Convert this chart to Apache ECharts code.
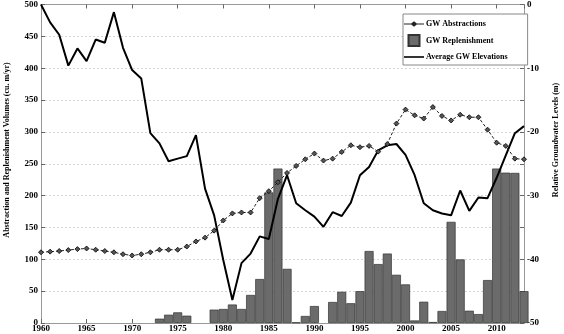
<!DOCTYPE html>
<html><head><meta charset="utf-8">
<script src="https://cdn.jsdelivr.net/npm/echarts@6/dist/echarts.min.js"></script>
<style>html,body{margin:0;padding:0;background:#fff}#c{width:564px;height:334px}</style>
</head><body><div id="c"></div>
<script>
var years = [1960,1961,1962,1963,1964,1965,1966,1967,1968,1969,1970,1971,1972,1973,1974,1975,1976,1977,1978,1979,1980,1981,1982,1983,1984,1985,1986,1987,1988,1989,1990,1991,1992,1993,1994,1995,1996,1997,1998,1999,2000,2001,2002,2003,2004,2005,2006,2007,2008,2009,2010,2011,2012,2013];
var abstractions = [111,112,113,114.5,116,117,115,113,111,108,106,108,111,115,115,115,120,128,134,145,161,172,173.5,173.5,196,207,221,235.6,246.6,257,266,255,258,268.5,279,276,278,269,281,313,335,326,321,339,325,318,327,323,323,303.5,283,278,258,257];
var replenishment = [null,null,null,null,null,null,null,null,null,null,null,null,null,6.8,13,16.7,11.5,null,null,21,22,29,22,44,69,205,242.5,85,1,11,26.6,null,33,49,31,50,113,92.5,109,75.7,60.6,4,33.4,1.5,18.8,158.8,99.8,19.3,14,67.4,242.5,236,235.6,50];
var elevations = [0,-2.8,-4.75,-9.6,-6.9,-8.9,-5.5,-6.0,-1.2,-6.8,-10.3,-11.6,-20.2,-21.8,-24.6,-24.2,-23.8,-20.5,-28.9,-33.1,-40.1,-46.4,-40.6,-39.1,-36.4,-36.8,-30.5,-26.8,-31.2,-32.3,-33.3,-34.9,-32.6,-33.2,-31.1,-26.8,-25.5,-22.9,-22.1,-21.9,-23.6,-26.8,-31.2,-32.3,-32.8,-33.1,-29.2,-32.4,-30.3,-30.4,-27.2,-23.7,-20.2,-19.1];
var seriesNames = ['GW Abstractions','GW Replenishment','Average GW Elevations'];
var leftTitle = 'Abstraction and Replenishment Volumes (cu. m/yr)';
var rightTitle = 'Relative Groundwater Levels (m)';

function pairs(vals){ var out=[]; for(var i=0;i<years.length;i++){ if(vals[i]!==null) out.push([years[i], vals[i]]); } return out; }

var FONT = 'Liberation Serif';
var lbl = {fontFamily: FONT, fontWeight: 'bold', fontSize: 9, color: '#000'};
var chart = echarts.init(document.getElementById('c'), null, {renderer: 'canvas'});
chart.setOption({
  animation: false,
  backgroundColor: '#fff',
  grid: {left: 41, right: 40, top: 4, bottom: 11, containLabel: false},
  xAxis: [{
    type: 'value', min: 1960, max: 2013, interval: 5, position: 'bottom',
    axisLine: {lineStyle: {color: '#999', width: 1}},
    axisTick: {inside: true, length: 4, lineStyle: {color: '#666'}},
    axisLabel: Object.assign({margin: 1, formatter: function(v){ return v % 5 === 0 ? String(v) : ''; }}, lbl),
    splitLine: {show: false}
  }, {
    type: 'value', min: 1960, max: 2013, interval: 5, position: 'top',
    axisLine: {lineStyle: {color: '#999', width: 1}},
    axisTick: {inside: true, length: 4, lineStyle: {color: '#666'}},
    axisLabel: {show: false}, splitLine: {show: false}
  }],
  yAxis: [{
    type: 'value', min: 0, max: 500, interval: 50, position: 'left',
    axisLine: {show: true, lineStyle: {color: '#999', width: 1}},
    axisTick: {show: true, inside: true, length: 4, lineStyle: {color: '#666'}},
    axisLabel: Object.assign({margin: 3}, lbl),
    splitLine: {show: true, lineStyle: {color: '#d4d4d4', type: [2, 2], width: 1}}
  }, {
    type: 'value', min: -50, max: 0, interval: 5, position: 'right',
    axisLine: {show: true, lineStyle: {color: '#999', width: 1}},
    axisTick: {show: true, inside: true, length: 4, lineStyle: {color: '#666'}},
    axisLabel: Object.assign({margin: 3, formatter: function(v){ return v % 10 === 0 ? String(v) : ''; }}, lbl),
    splitLine: {show: false}
  }],
  legend: {
    orient: 'vertical', left: 403, top: 14,
    borderColor: '#888', borderWidth: 1, backgroundColor: '#fff', borderRadius: 0,
    padding: [6, 20, 4, 1], itemGap: 6, itemWidth: 20, itemHeight: 11,
    textStyle: {fontFamily: FONT, fontWeight: 'bold', fontSize: 8, color: '#000', padding: [0, 0, 0, -3]},
    data: [
      {name: seriesNames[0], icon: 'path://M0,4.6H7.2L10,2.2L12.8,4.6H20V5.4H12.8L10,7.8L7.2,5.4H0Z', itemStyle: {color: '#222', borderWidth: 0}},
      {name: seriesNames[1], icon: 'path://M0,0H10V10H0Z'},
      {name: seriesNames[2], icon: 'path://M0,4.2H20V5.8H0Z', itemStyle: {color: '#000', borderWidth: 0}}
    ]
  },
  graphic: [
    {type: 'text', x: 7, y: 150, rotation: Math.PI / 2, style: {text: leftTitle, font: 'bold 8px "Liberation Serif"', fill: '#000', textAlign: 'center', textVerticalAlign: 'middle'}},
    {type: 'text', x: 556, y: 140, rotation: Math.PI / 2, style: {text: rightTitle, font: 'bold 8px "Liberation Serif"', fill: '#000', textAlign: 'center', textVerticalAlign: 'middle'}}
  ],
  series: [{
    name: seriesNames[1], type: 'bar', xAxisIndex: 0, yAxisIndex: 0,
    data: pairs(replenishment), barWidth: 9, z: 1,
    itemStyle: {color: '#6b6b6b', borderColor: '#333', borderWidth: 0.7}
  }, {
    name: seriesNames[2], type: 'line', xAxisIndex: 0, yAxisIndex: 1,
    data: pairs(elevations), symbol: 'none', z: 3,
    itemStyle: {color: '#000'},
    lineStyle: {color: '#000', width: 2}
  }, {
    name: seriesNames[0], type: 'line', xAxisIndex: 0, yAxisIndex: 0,
    data: pairs(abstractions), symbol: 'diamond', symbolSize: 5, z: 4,
    lineStyle: {color: '#222', width: 1, type: [3, 2]},
    itemStyle: {color: '#555', borderColor: '#000', borderWidth: 0.8}
  }]
});
</script></body></html>
